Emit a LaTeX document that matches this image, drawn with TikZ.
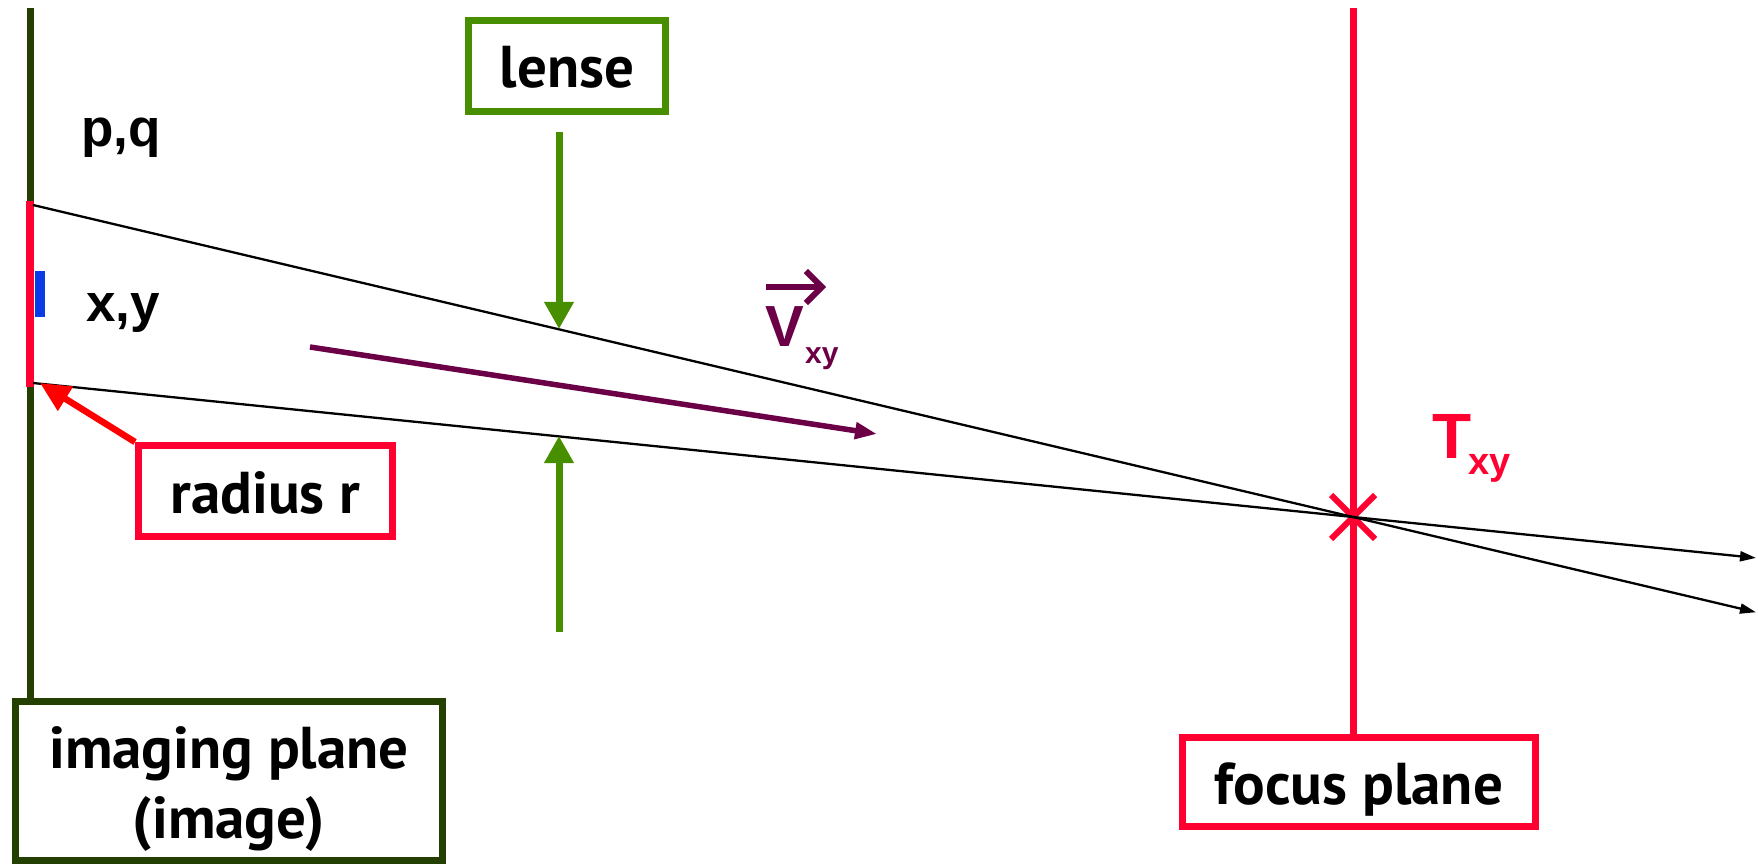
\documentclass[tikz,border=0pt]{standalone}
\usepackage{fontspec}
\setmainfont{PT Sans}
\newfontfamily\arialf{Liberation Sans}
\usetikzlibrary{arrows.meta,calc}
\definecolor{dkgreen}{RGB}{35,64,0}
\definecolor{lgreen}{RGB}{72,143,0}
\definecolor{crim}{RGB}{255,0,48}
\definecolor{pureRed}{RGB}{255,0,0}
\definecolor{blu}{RGB}{10,59,230}
\definecolor{purp}{RGB}{107,0,70}
\tikzset{
  framebox/.style={draw, line width=7pt, inner sep=0pt, font=\bfseries\fontsize{59}{70}\selectfont},
  onetxt/.style={text height=44pt, text depth=0pt},
  ray/.style={line width=2.3pt, -{Triangle[length=16pt,width=10pt]}},
  lensarrow/.style={lgreen, line width=7pt, -{Triangle[length=27pt,width=28pt]}},
  lbl/.style={anchor=base west, inner sep=0pt, font=\arialf\bfseries\fontsize{53}{60}\selectfont},
}
\begin{document}
\begin{tikzpicture}[x=1pt,y=-1pt]
\useasboundingbox (0,0) rectangle (1758,866);

% boxes
\node[framebox, draw=dkgreen, minimum width=427pt, minimum height=159pt, align=center] (img) at (229,781) {\rule{0pt}{58pt}imaging plane\\(image)};
\node[framebox, onetxt, draw=lgreen, minimum width=197pt, minimum height=91pt] (lens) at (567,66) {lense};
\node[framebox, onetxt, draw=crim, minimum width=254pt, minimum height=91pt] (radius) at (265.5,491) {radius r};
\node[framebox, onetxt, draw=crim, minimum width=353pt, minimum height=89pt] (focus) at (1359,782) {focus plane};

% imaging plane line
\coordinate (imgtop) at (30,8);
\draw[dkgreen, line width=7pt] (imgtop) -- (imgtop |- img.north);
\coordinate (rtop) at (30,201);
\coordinate (rbot) at (30,387);
\draw[crim, line width=8.5pt] (rtop) -- (rbot);
\fill[blu] (35,271) rectangle (45,317);

% focus plane line and cross
\coordinate (ftop) at (1353,8);
\coordinate (T) at (1353,517);
\draw[crim, line width=7pt] (ftop) -- (ftop |- focus.north);
\draw[crim, line width=6pt] ($(T)+(-22,-22)$) -- ($(T)+(22,22)$);
\draw[crim, line width=6pt] ($(T)+(-22,22)$) -- ($(T)+(22,-22)$);

% rays
\coordinate (r1) at (33,205);
\coordinate (r2) at (33,383);
\draw[ray] (r1) -- ($(r1)!1.3053!(T)$);
\draw[ray] (r2) -- ($(r2)!1.3053!(T)$);

% lens arrows
\coordinate (g1) at (559,132);
\coordinate (g1t) at (559,329);
\coordinate (g2) at (559,632);
\coordinate (g2t) at (559,436);
\draw[lensarrow] (g1) -- (g1t);
\draw[lensarrow] (g2) -- (g2t);

% purple vector
\coordinate (v1) at (310,347);
\coordinate (v2) at (877,434);
\draw[purp, line width=5.5pt, -{Triangle[length=22pt,width=16pt]}] (v1) -- (v2);

% radius arrow
\coordinate (rtip) at (40,383);
\draw[pureRed, line width=6.5pt, -{Triangle[length=30pt,width=27pt]}] (radius.north west) -- (rtip);

% labels
\node[lbl] (pq) at (81,147) {p,q};
\node[lbl] (xy) at (86,322) {x,y};
\node[lbl, text=purp, font=\arialf\bfseries\fontsize{58}{60}\selectfont] (V) at (765,347) {V};
\node[lbl, text=purp, font=\arialf\bfseries\fontsize{30}{30}\selectfont] (Vsub) at (805,363) {xy};
\coordinate (vec1) at (766,287);
\coordinate (vec2) at (826,287);
\draw[purp, line width=6pt, -{Straight Barb[length=16pt,width=32pt]}] (vec1) -- (vec2);
\node[lbl, text=crim, font=\arialf\bfseries\fontsize{64}{64}\selectfont] (Tl) at (1432,458) {T};
\node[lbl, text=crim, font=\arialf\bfseries\fontsize{38}{38}\selectfont] (Tsub) at (1468,474) {xy};
\end{tikzpicture}
\end{document}
